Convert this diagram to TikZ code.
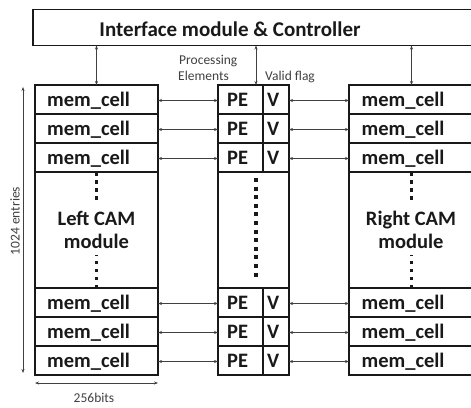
\documentclass[tikz,border=0pt]{standalone}
\usepackage{fontspec}
\setmainfont{Carlito}
\usetikzlibrary{arrows.meta,calc}
\begin{document}
\begin{tikzpicture}[x=1pt,y=-1pt,
  box/.style={draw=black!90,line width=1.3pt,inner sep=0pt,outer sep=0pt,anchor=north west},
  big/.style={font=\fontsize{20.5}{24}\selectfont\bfseries,inner sep=0pt,anchor=base west,text=black!90},
  bigc/.style={big,anchor=base},
  small/.style={font=\fontsize{13.5}{16}\selectfont,inner sep=0pt,text=black!75},
  conn/.style={{Stealth[length=4pt,width=3pt]}-{Stealth[length=4pt,width=3pt]},line width=0.6pt,draw=black!75},
  dots/.style={line width=3.5pt,dash pattern=on 3.5pt off 4.5pt,draw=black!90},
  mdots/.style={line width=4pt,dash pattern=on 4pt off 4.6pt,draw=black!90}]
\useasboundingbox (0,0) rectangle (471,407);
\clip (0,0) rectangle (471,407);

% controller
\node[box,minimum width=460pt,minimum height=36pt] (ctrl) at (33,9.5) {};
\node[font=\fontsize{21}{24}\selectfont\bfseries,inner sep=0pt,anchor=base,text=black!90] (title) at (230,36) {Interface module \& Controller};

% rows
\foreach \n/\y in {1/85,2/114,3/143,4/288,5/317,6/346} {
  \node[box,minimum width=123pt,minimum height=29pt] (lc\n) at (35,\y) {};
  \node[big] (lt\n) at ($(lc\n.west)+(12,7)$) {mem\_cell};
  \node[box,minimum width=45pt,minimum height=29pt] (pe\n) at (218,\y) {};
  \node[big] (pt\n) at ($(pe\n.west)+(9,7)$) {PE};
  \node[box,minimum width=26pt,minimum height=29pt] (v\n) at (263,\y) {};
  \node[big] (vt\n) at ($(v\n.west)+(4,7)$) {V};
  \node[box,minimum width=125pt,minimum height=29pt] (rc\n) at (349,\y) {};
  \node[big] (rt\n) at ($(rc\n.west)+(12.5,7)$) {mem\_cell};
  \draw[conn] ($(lc\n.east)+(0,1)$) -- ($(pe\n.west)+(0,1)$);
  \draw[conn] ($(v\n.east)+(0,1)$) -- ($(rc\n.west)+(0,1)$);
}

% middle sections
\node[box,minimum width=123pt,minimum height=116pt] (lmid) at (35,172) {};
\node[box,minimum width=71pt,minimum height=116pt] (pmid) at (218,172) {};
\node[box,minimum width=125pt,minimum height=116pt] (rmid) at (349,172) {};

\draw[dots] (lmid.north) -- ++(0,29);
\draw[dots] (lmid.south) -- ++(0,-33);
\draw[dots] (rmid.north) -- ++(0,29);
\draw[dots] (rmid.south) -- ++(0,-33);
\coordinate (mdA) at (256,178);
\coordinate (mdB) at (256,278);
\draw[mdots] (mdA) -- (mdB);

\node[bigc] (lname1) at (96.5,225) {Left CAM};
\node[bigc] (lname2) at (96.5,248) {module};
\node[bigc] (rname1) at (411,225) {Right CAM};
\node[bigc] (rname2) at (411,248) {module};

% controller links
\coordinate (mtop) at (256,85);
\draw[conn] (ctrl.south -| lc1.north) -- (lc1.north);
\draw[conn] (ctrl.south -| mtop) -- (mtop);
\draw[conn] (ctrl.south -| rc1.north) -- (rc1.north);

% labels
\node[small,anchor=base west] (proc) at (179,64.5) {Processing};
\node[small,anchor=base west] (elem) at (178,80) {Elements};
\node[small,anchor=base west] (valid) at (265,80.5) {Valid flag};

% dimensions
\coordinate (dimT) at (23,87);
\coordinate (dimB) at (23,373);
\draw[conn] (dimT) -- (dimB);
\node[small,rotate=90] (entries) at (15,221) {1024 entries};
\draw[conn] ($(lc6.south west)+(0,8)$) -- ($(lc6.south east)+(0,8)$);
\node[small,anchor=base] (bits) at (94,402) {256bits};
\end{tikzpicture}
\end{document}
